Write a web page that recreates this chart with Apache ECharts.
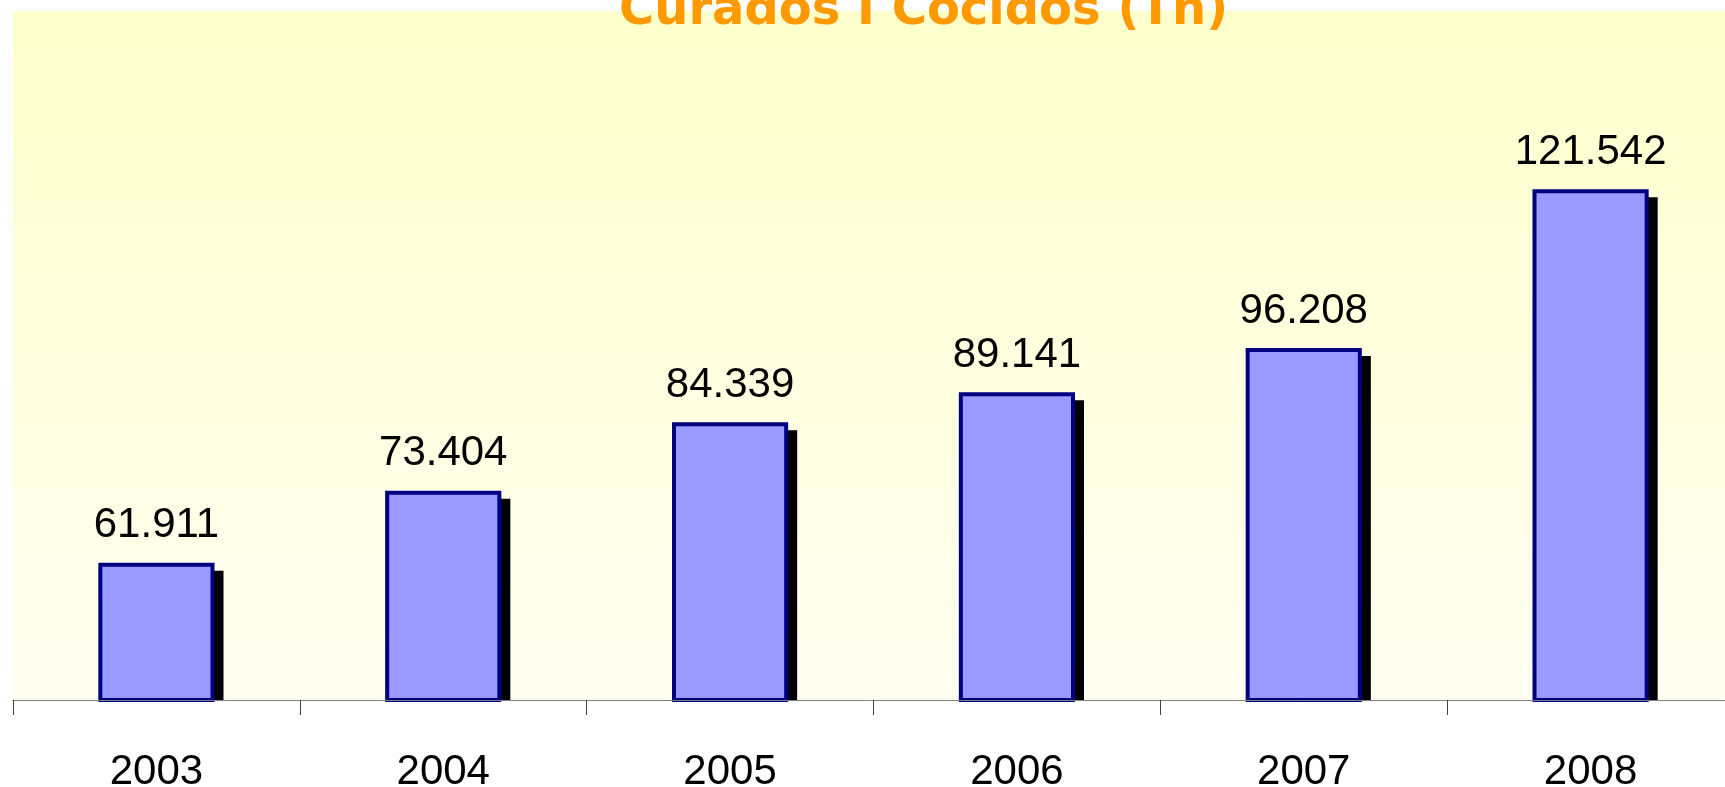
<!DOCTYPE html>
<html>
<head>
<meta charset="utf-8">
<script src="https://cdn.jsdelivr.net/npm/echarts@6/dist/echarts.min.js"></script>
<style>
  html, body { margin: 0; padding: 0; background: #fff; }
  #chart { width: 1725px; height: 787px; }
</style>
</head>
<body>
<div id="chart"></div>
<script>
// 数据
const years = ['2003', '2004', '2005', '2006', '2007', '2008'];
const tons = [61.911, 73.404, 84.339, 89.141, 96.208, 121.542];
const titleText = 'Curados I Cocidos (Tn)';

const yMin = 40;
const barRatio = 0.405;
const border = 4;

const chart = echarts.init(document.getElementById('chart'));

const fmt = (v) => v.toFixed(3);

chart.setOption({
  animation: false,
  title: {
    text: titleText,
    left: 614,
    top: -17,
    textStyle: {
      fontFamily: 'DejaVu Sans',
      fontWeight: 'bold',
      fontSize: 48,
      color: '#FF9900'
    }
  },
  grid: {
    left: 13,
    top: 11,
    bottom: 87,
    width: 1721,
    outerBoundsMode: 'none',
    containLabel: false,
    show: true,
    borderWidth: 0,
    backgroundColor: new echarts.graphic.LinearGradient(0, 0, 0, 1, [
      { offset: 0, color: '#FFFFCC' },
      { offset: 1, color: '#FFFFF2' }
    ])
  },
  xAxis: {
    type: 'category',
    data: years,
    z: 5,
    axisLine: { show: true, lineStyle: { color: '#808080', width: 1 } },
    axisTick: { show: true, alignWithLabel: false, length: 15, lineStyle: { color: '#404040', width: 1 } },
    axisLabel: {
      margin: 51,
      fontFamily: 'Liberation Sans',
      fontSize: 42,
      color: '#000'
    }
  },
  yAxis: {
    type: 'value',
    min: yMin,
    max: 150,
    show: false,
    splitLine: { show: false }
  },
  series: [
    {
      // 阴影
      type: 'custom',
      z: 1,
      silent: true,
      data: tons.map((v, i) => [i, v]),
      renderItem: (params, api) => {
        const top = api.coord([api.value(0), api.value(1)]);
        const base = api.coord([api.value(0), yMin]);
        const w = api.size([1, 0])[0] * barRatio;
        const h = border / 2;
        const y = top[1] - h + 10;
        return {
          type: 'rect',
          shape: { x: top[0] - w / 2 - h + 7, y: y, width: w + border, height: base[1] - y },
          style: { fill: '#000' }
        };
      }
    },
    {
      type: 'bar',
      z: 2,
      data: tons,
      barWidth: (barRatio * 100) + '%',
      itemStyle: {
        color: '#9999FF',
        borderColor: '#000080',
        borderWidth: border
      },
      label: {
        show: true,
        position: 'top',
        distance: 16,
        formatter: (p) => fmt(p.value),
        fontFamily: 'Liberation Sans',
        fontSize: 42,
        color: '#000'
      }
    }
  ]
});
</script>
</body>
</html>
